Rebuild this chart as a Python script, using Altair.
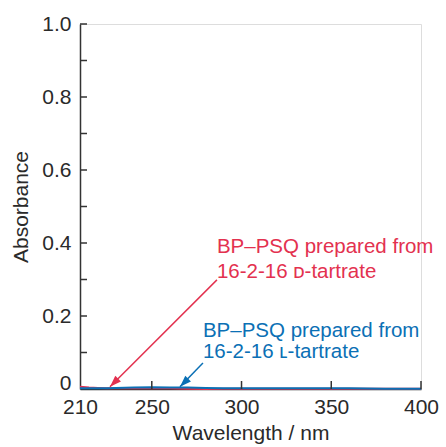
import altair as alt
import pandas as pd

# ---- data ----
wavelength = [210, 215, 220, 225, 230, 240, 250, 260, 270, 280, 290, 300, 320, 340, 360, 380, 400]
abs_d = [0.006, 0.004, 0.003, 0.002, 0.002, 0.002, 0.002, 0.002, 0.001, 0.000, 0.001, 0.001, 0.001, 0.001, 0.001, 0.001, 0.001]
abs_l = [0.002, 0.002, 0.002, 0.002, 0.003, 0.004, 0.005, 0.004, 0.004, 0.003, 0.002, 0.002, 0.002, 0.002, 0.002, 0.001, 0.001]

x_labels = [210, 250, 300, 350, 400]
x_ticks = [250, 300, 350, 400]
y_ticks = [0, 0.1, 0.2, 0.3, 0.4, 0.5, 0.6, 0.7, 0.8, 0.9, 1.0]

RED = "#e3314f"
BLUE = "#0b70b5"
INK = "#2a2a2a"
FONT = "Liberation Sans"

# annotation table (label lines and arrows)
ann_text = pd.DataFrame({
    "x": [286.3, 286.3, 278.5, 278.5],
    "y": [0.373, 0.304, 0.142, 0.084],
    "t": ["BP\u2013PSQ prepared from", "16-2-16 \u1d05-tartrate",
          "BP\u2013PSQ prepared from", "16-2-16 \u029f-tartrate"],
    "c": ["d", "d", "l", "l"],
})
arrows = pd.DataFrame({
    "x": [286.3, 278.5], "y": [0.299, 0.071],
    "x2": [226.7, 265.7], "y2": [0.006, 0.006],
    "c": ["d", "l"],
})

df = pd.DataFrame({
    "wl": wavelength * 2,
    "A": abs_d + abs_l,
    "c": ["d"] * len(wavelength) + ["l"] * len(wavelength),
})

xs = alt.Scale(domain=[210, 400], nice=False)
ys = alt.Scale(domain=[0, 1], nice=False)
cs = alt.Scale(domain=["d", "l"], range=[RED, BLUE])

base_x = alt.X("wl:Q", scale=xs, axis=alt.Axis(
    title="Wavelength / nm", values=x_labels, ticks=False, grid=False,
    labelFontSize=21, titleFontSize=21, labelFont=FONT, titleFont=FONT,
    titleFontWeight="normal",
    labelColor=INK, titleColor=INK, labelPadding=7, titlePadding=5,
    domainColor="#333", domainWidth=1.5, labelFlush=False))
base_y = alt.Y("A:Q", scale=ys, axis=alt.Axis(
    title="Absorbance", values=y_ticks, ticks=False, grid=False,
    labelExpr="datum.value == 0 ? '0' : (round(datum.value*10) % 2 == 0 ? format(datum.value, '.1f') : '')",
    labelBaseline={"condition": {"test": "datum.value == 0", "value": "alphabetic"}, "value": "middle"},
    labelFontSize=21, titleFontSize=21, labelFont=FONT, titleFont=FONT,
    titleFontWeight="normal",
    labelColor=INK, titleColor=INK, labelPadding=9, titlePadding=10,
    domainColor="#333", domainWidth=1.5))

lines = alt.Chart(df).mark_line(strokeWidth=2).encode(
    x=base_x, y=base_y,
    color=alt.Color("c:N", scale=cs, legend=None),
    order=alt.Order("wl:Q"),
)

ytick_df = pd.DataFrame({"v": y_ticks[1:]})
yticks = alt.Chart(ytick_df).mark_rule(color="#333", strokeWidth=1.5).encode(
    y=alt.Y("v:Q", scale=ys), x=alt.value(0), x2=alt.value(7))

xtick_df = pd.DataFrame({"v": x_ticks})
xticks = alt.Chart(xtick_df).mark_rule(color="#333", strokeWidth=1.5).encode(
    x=alt.X("v:Q", scale=xs), y=alt.value(365), y2=alt.value(357))

arrow_lines = alt.Chart(arrows).mark_rule(strokeWidth=1.5).encode(
    x=alt.X("x:Q", scale=xs), y=alt.Y("y:Q", scale=ys),
    x2="x2:Q", y2="y2:Q",
    color=alt.Color("c:N", scale=cs, legend=None))

heads = alt.Chart(arrows).mark_point(
    shape="M0,0L0.38,1.1L-0.38,1.1Z", filled=True, opacity=1, size=440, angle=225
).encode(
    x=alt.X("x2:Q", scale=xs), y=alt.Y("y2:Q", scale=ys),
    color=alt.Color("c:N", scale=cs, legend=None))

labels = alt.Chart(ann_text).mark_text(
    align="left", baseline="alphabetic", fontSize=20.5, font=FONT
).encode(
    x=alt.X("x:Q", scale=xs), y=alt.Y("y:Q", scale=ys), text="t:N",
    color=alt.Color("c:N", scale=cs, legend=None))

chart = alt.layer(lines, yticks, xticks, arrow_lines, heads, labels).properties(
    width=341, height=365,
    autosize=alt.AutoSizeParams(type="none"),
    padding={"left": 80, "top": 24, "right": 25, "bottom": 58},
).configure_view(stroke=None).configure(background="white")

chart.save("out.html", embed_options={"renderer": "svg", "actions": False})
